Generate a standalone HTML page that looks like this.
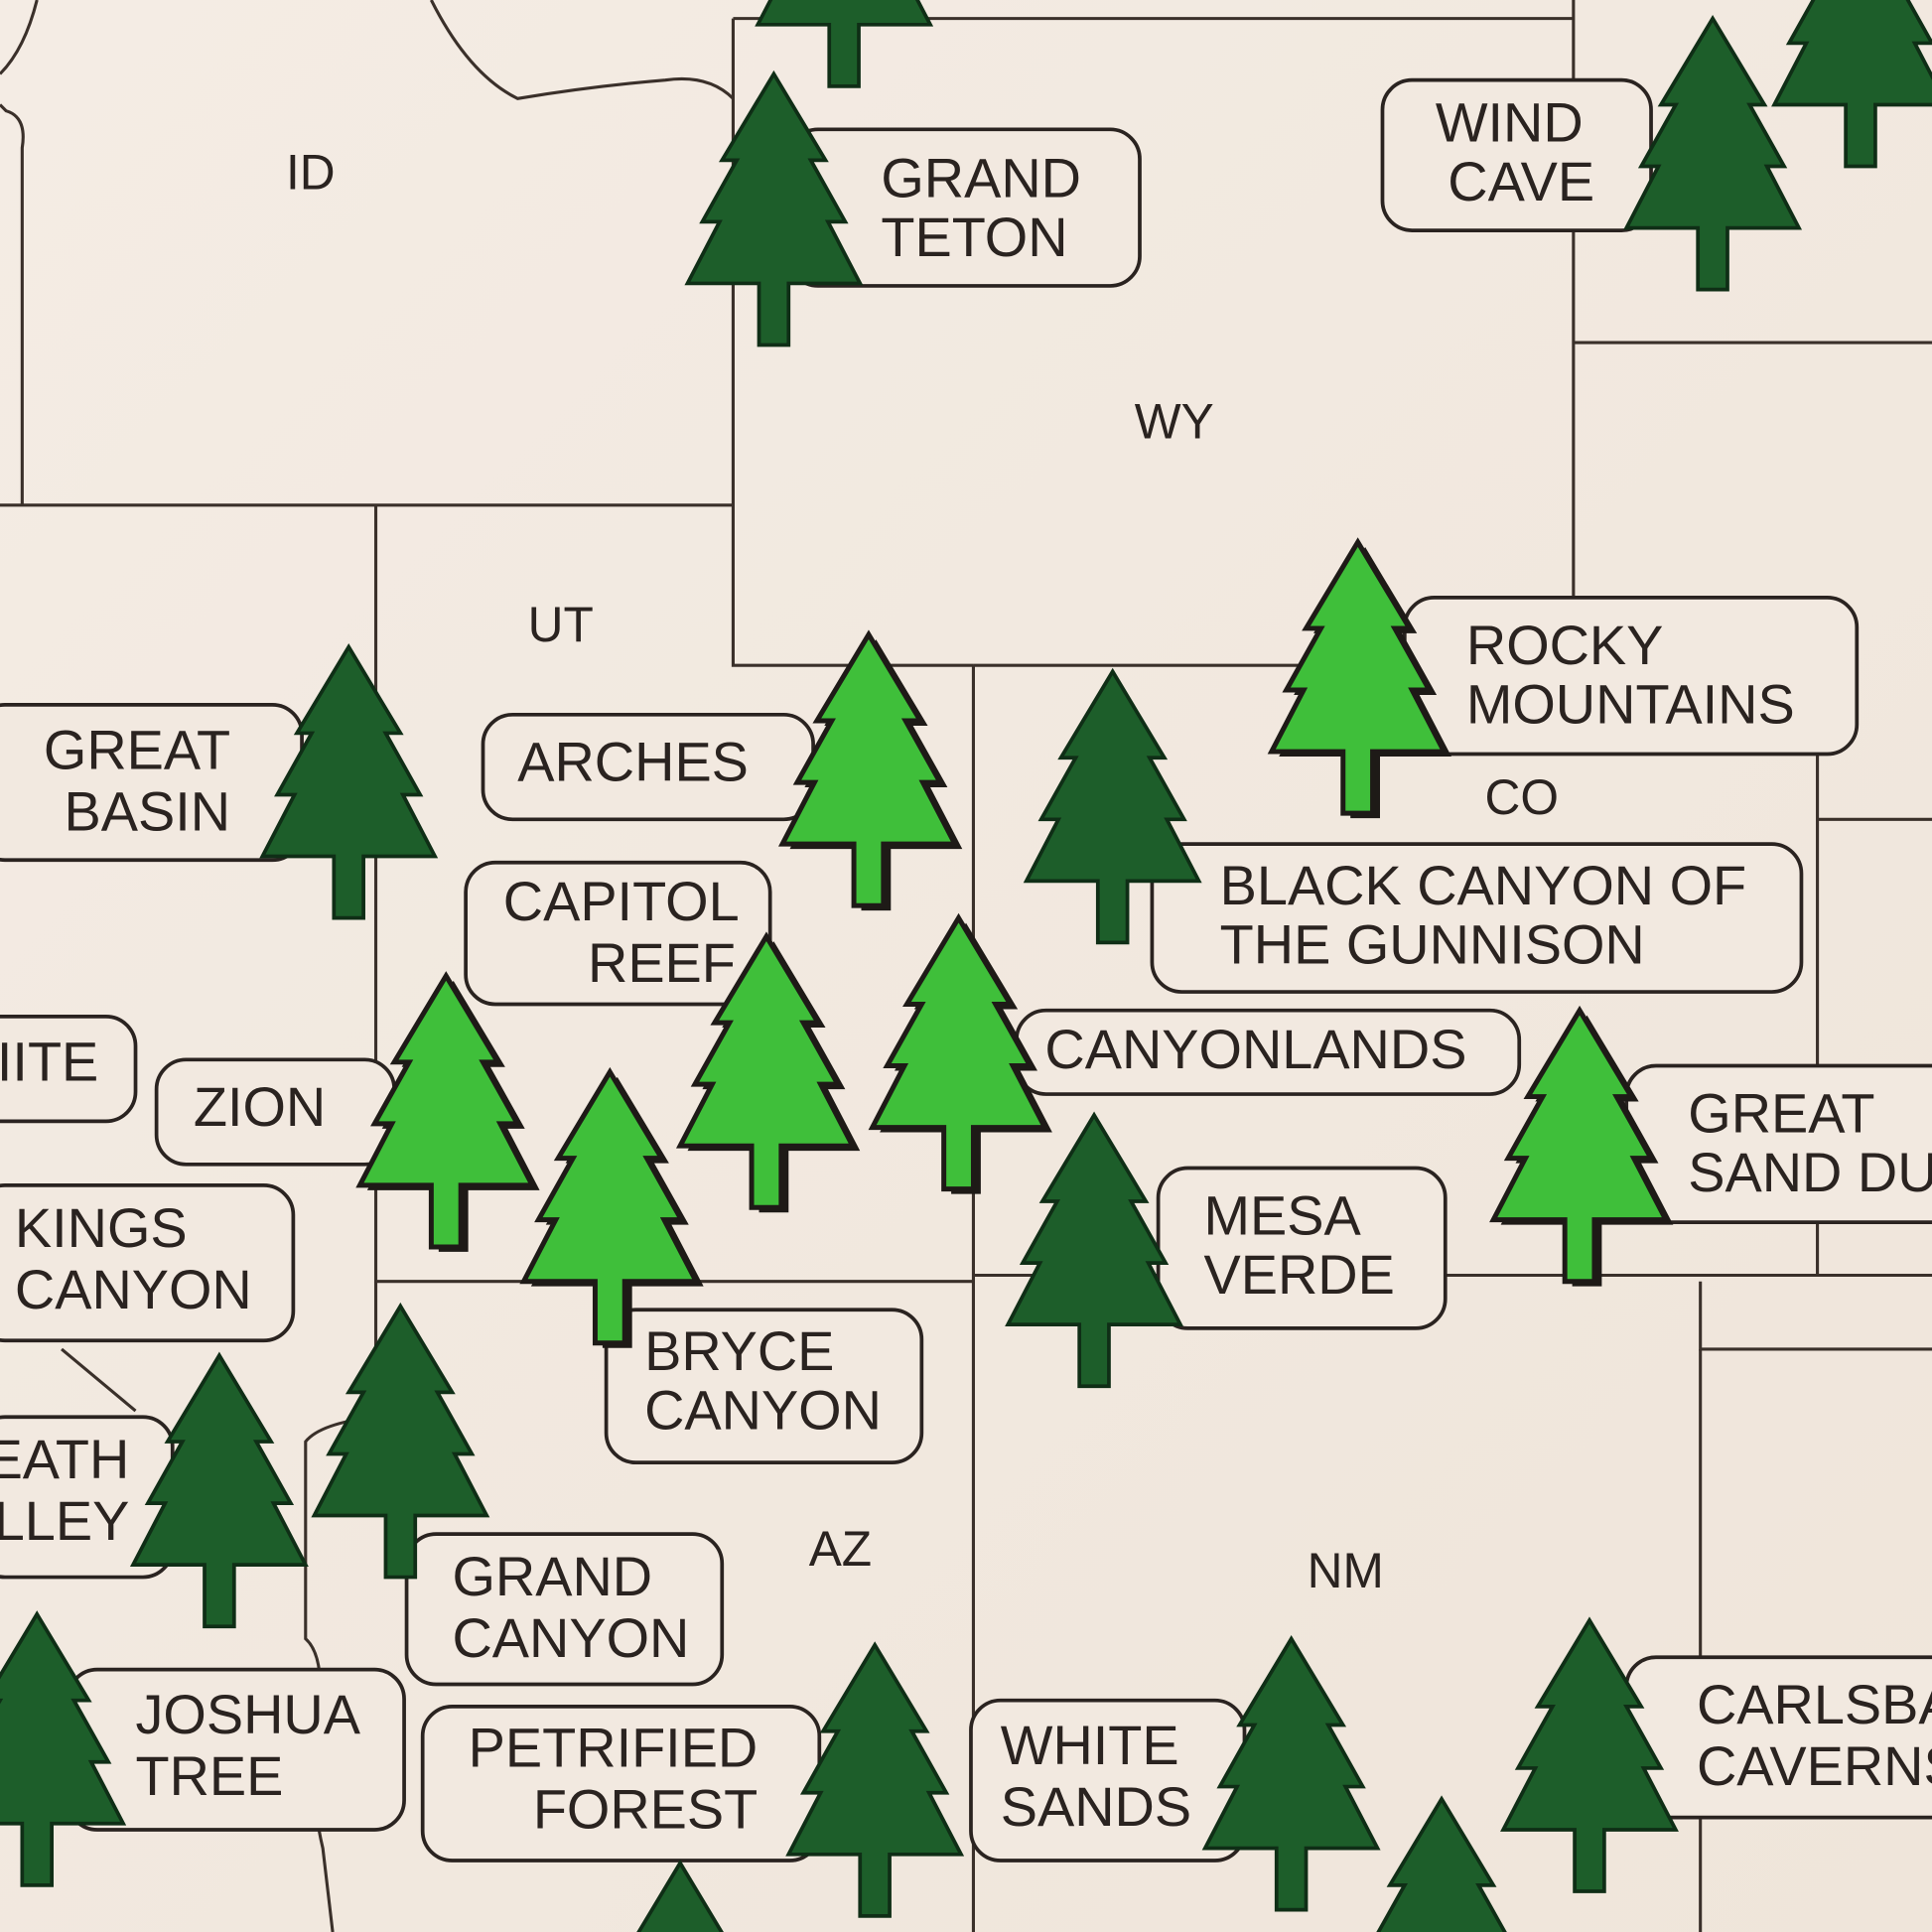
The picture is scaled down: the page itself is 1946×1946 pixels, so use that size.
<!DOCTYPE html>
<html><head><meta charset="utf-8"><style>
html,body{margin:0;padding:0;background:#f3ebe2;width:1946px;height:1946px;overflow:hidden;position:relative;}
svg{display:block;position:absolute;left:0;top:0}
text{font-family:"Liberation Sans",sans-serif;fill:#2a2320;}
</style></head><body>
<svg width="1946" height="1946" viewBox="0 0 1568 1568" xmlns="http://www.w3.org/2000/svg">
<defs>
<linearGradient id="bg" x1="0" y1="0" x2="1" y2="1">
<stop offset="0" stop-color="#f4ece4"/><stop offset="1" stop-color="#efe5da"/>
</linearGradient>
<path id="tr" d="M0,0 L42,70 L30,70 L58,120 L44,120 L70,170 L12,170 L12,220 L-12,220 L-12,170 L-70,170 L-44,120 L-58,120 L-30,70 L-42,70 Z"/>
<g id="dk"><use href="#tr" fill="#1d5e2a" stroke="#0f2e16" stroke-width="3"/></g>
<g id="lt"><use href="#tr" transform="translate(6,4)" fill="#1e1a17"/><use href="#tr" fill="#3fbf3a" stroke="#1e1a17" stroke-width="4"/></g>
</defs>
<rect width="1568" height="1568" fill="url(#bg)"/>
<g fill="none" stroke="#3a302a" stroke-width="2.5">
<path d="M0,410 H595"/>
<path d="M595,15 V540 H790"/>
<path d="M595,15 H1277"/>
<path d="M1277,0 V540"/>
<path d="M790,540 H1475 V1035 H790"/>
<path d="M790,540 V1568"/>
<path d="M305,410 V1040 H790"/>
<path d="M1277,278 H1568"/>
<path d="M1475,665 H1568"/>
<path d="M1475,1035 H1568"/>
<path d="M1380,1040 V1095 H1568"/>
<path d="M1380,1095 V1568"/>
<path d="M18,410 V120 Q22,95 5,90 L0,85"/>
<path d="M0,60 Q20,40 30,0"/>
<path d="M350,0 Q380,60 420,80 Q480,70 540,65 Q575,60 595,80"/>
<path d="M50,1095 L110,1145"/>
<path d="M305,1040 V1150 Q260,1155 248,1170 V1330 Q265,1345 258,1400 Q250,1450 262,1500 L270,1568"/>
</g>
<g fill="#f2e9e0" stroke="#2a2320" stroke-width="3">
<rect x="640" y="105" width="285" height="127" rx="24"/>
<rect x="1122" y="65" width="218" height="122" rx="24"/>
<rect x="1140" y="485" width="367" height="127" rx="24"/>
<rect x="-20" y="572" width="265" height="126" rx="24"/>
<rect x="392" y="580" width="268" height="85" rx="24"/>
<rect x="378" y="700" width="247" height="115" rx="24"/>
<rect x="935" y="685" width="527" height="120" rx="24"/>
<rect x="825" y="820" width="408" height="68" rx="24"/>
<rect x="-50" y="825" width="160" height="85" rx="24"/>
<rect x="127" y="860" width="193" height="85" rx="24"/>
<rect x="1320" y="865" width="300" height="127" rx="24"/>
<rect x="-20" y="962" width="258" height="126" rx="24"/>
<rect x="940" y="948" width="233" height="130" rx="24"/>
<rect x="492" y="1063" width="256" height="124" rx="24"/>
<rect x="-20" y="1150" width="160" height="130" rx="24"/>
<rect x="330" y="1245" width="256" height="122" rx="24"/>
<rect x="55" y="1355" width="273" height="130" rx="24"/>
<rect x="343" y="1385" width="322" height="125" rx="24"/>
<rect x="788" y="1380" width="222" height="130" rx="24"/>
<rect x="1320" y="1345" width="300" height="130" rx="24"/>
</g>
<g font-size="45" dominant-baseline="middle">
<text x="715" y="148">GRAND</text><text x="715" y="196">TETON</text>
<text x="1165" y="103">WIND</text><text x="1175" y="151">CAVE</text>
<text x="1190" y="527">ROCKY</text><text x="1190" y="575">MOUNTAINS</text>
<text x="187" y="612" text-anchor="end">GREAT</text><text x="187" y="662" text-anchor="end">BASIN</text>
<text x="420" y="622">ARCHES</text>
<text x="600" y="735" text-anchor="end">CAPITOL</text><text x="597" y="785" text-anchor="end">REEF</text>
<text x="990" y="722">BLACK CANYON OF</text><text x="990" y="770">THE GUNNISON</text>
<text x="848" y="855">CANYONLANDS</text>
<text x="80" y="865" text-anchor="end">IITE</text>
<text x="157" y="902">ZION</text>
<text x="1370" y="907">GREAT</text><text x="1370" y="955">SAND DUNES</text>
<text x="12" y="1000">KINGS</text><text x="12" y="1050">CANYON</text>
<text x="977" y="990">MESA</text><text x="977" y="1038">VERDE</text>
<text x="523" y="1100">BRYCE</text><text x="523" y="1148">CANYON</text>
<text x="105" y="1188" text-anchor="end">EATH</text><text x="105" y="1238" text-anchor="end">LLEY</text>
<text x="367" y="1283">GRAND</text><text x="367" y="1333">CANYON</text>
<text x="110" y="1395">JOSHUA</text><text x="110" y="1445">TREE</text>
<text x="615" y="1422" text-anchor="end">PETRIFIED</text><text x="615" y="1472" text-anchor="end">FOREST</text>
<text x="812" y="1420">WHITE</text><text x="812" y="1470">SANDS</text>
<text x="1377" y="1387">CARLSBAD</text><text x="1377" y="1437">CAVERNS</text>
</g>
<g font-size="40" dominant-baseline="middle" text-anchor="middle">
<text x="252" y="143">ID</text><text x="953" y="345">WY</text><text x="455" y="510">UT</text>
<text x="1235" y="650">CO</text><text x="682" y="1260">AZ</text><text x="1092" y="1278">NM</text>
</g>
<use href="#dk" transform="translate(685,-150)"/>
<use href="#dk" transform="translate(628,60)"/>
<use href="#dk" transform="translate(1390,15)"/>
<use href="#dk" transform="translate(1510,-85)"/>
<use href="#dk" transform="translate(283,525)"/>
<use href="#dk" transform="translate(903,545)"/>
<use href="#dk" transform="translate(888,905)"/>
<use href="#dk" transform="translate(325,1060)"/>
<use href="#dk" transform="translate(178,1100)"/>
<use href="#dk" transform="translate(30,1310)"/>
<use href="#dk" transform="translate(710,1335)"/>
<use href="#dk" transform="translate(1048,1330)"/>
<use href="#dk" transform="translate(1290,1315)"/>
<use href="#dk" transform="translate(1170,1460)"/>
<use href="#dk" transform="translate(552,1512)"/>
<use href="#lt" transform="translate(705,515)"/>
<use href="#lt" transform="translate(1102,440)"/>
<use href="#lt" transform="translate(362,792)"/>
<use href="#lt" transform="translate(622,760)"/>
<use href="#lt" transform="translate(778,745)"/>
<use href="#lt" transform="translate(495,870)"/>
<use href="#lt" transform="translate(1282,820)"/>
</svg>
</body></html>
